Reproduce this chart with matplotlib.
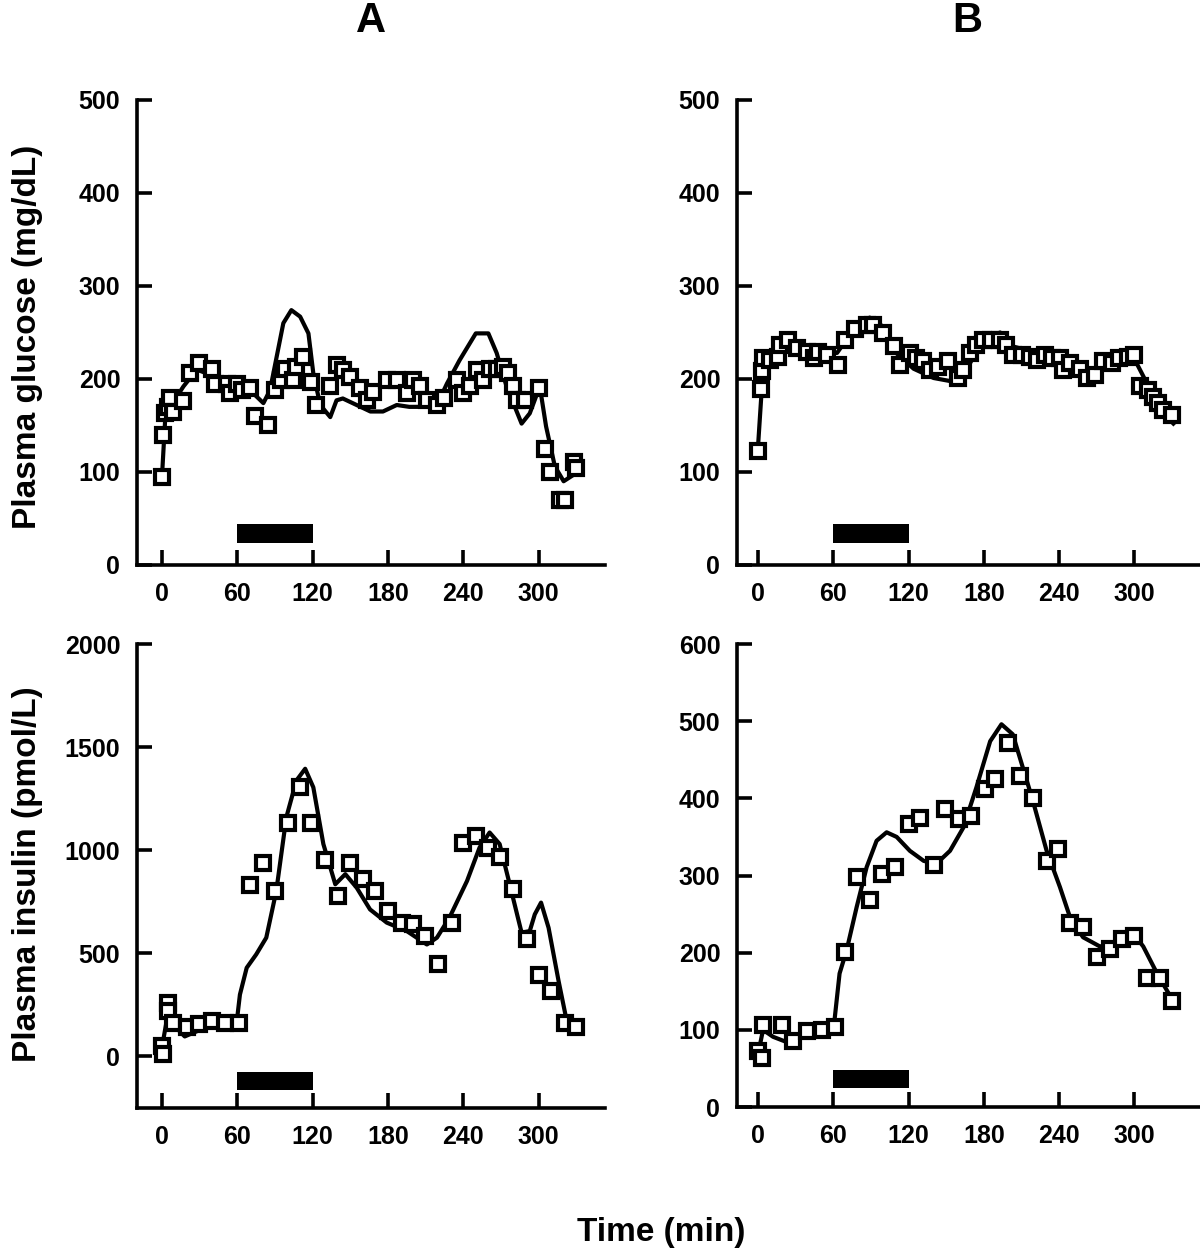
import matplotlib
matplotlib.use('Agg')
import matplotlib.pyplot as plt

plt.rcParams['font.family'] = ['Liberation Sans', 'DejaVu Sans']
plt.rcParams['font.weight'] = 'bold'

# ---- panel A, glucose (mg/dL) ----
a_glu_t = [0, 1, 2.4, 5, 6.4, 9, 17, 22, 29, 39.5, 42, 51.5, 54, 59.5, 63.5, 70, 74, 84.7,
           90, 95, 98, 104.6, 107, 112.6, 119, 123, 134, 139, 144, 150, 158, 163, 168, 179,
           187, 195, 200, 205.5, 211, 219, 225, 235, 240, 245, 250.6, 256, 261, 266.6, 272,
           276, 280, 282.5, 289, 300, 305, 309, 317, 321, 328, 330]
a_glu_v = [95, 140, 163, 170, 179, 165, 176, 206, 217, 211, 195, 195, 185, 195, 188, 190, 160, 150,
           188, 199, 211, 199, 213, 224, 197, 172, 192, 215, 210, 202, 190, 177, 186, 199,
           199, 185, 199, 192, 177, 172, 179, 199, 185, 192, 210, 199, 211, 211, 213,
           206, 192, 177, 177, 190, 125, 100, 70, 70, 111, 104]
a_glu_fit_t = [0, 2.4, 6.4, 17, 27.6, 35.6, 43.5, 62, 70, 80.7, 86, 91.3, 96.6, 103, 110, 116.6,
               120.5, 126, 134, 139, 144, 155, 166, 176, 187, 197, 208, 219, 227, 237, 250, 260,
               266.6, 274.5, 286.5, 293, 301, 306, 313, 320, 328, 333]
a_glu_fit_v = [98, 156, 170, 192, 210, 206, 195, 195, 188, 174, 188, 224, 260, 274, 267, 249,
               206, 172, 159, 177, 179, 172, 165, 165, 172, 170, 170, 172, 195, 220, 249, 249,
               228, 192, 152, 163, 192, 149, 106, 90, 97, 102]

# ---- panel B, glucose (mg/dL) ----
b_glu_t = [0, 2, 3.5, 4.2, 9.6, 16, 17.5, 24, 31, 39, 45, 48, 55, 64, 69, 77, 86.6, 92, 100,
           108, 113, 121, 126, 131.7, 137, 143.7, 151.7, 159.6, 163.6, 169, 174, 179.5, 186,
           193, 198, 203, 210, 216.7, 222, 228.7, 234, 240.6, 243, 248.6, 256.6, 262, 268.5,
           275, 281.8, 288, 295, 300, 304, 311, 315, 319, 323, 329.6]
b_glu_v = [123, 189, 209, 222, 220, 224, 237, 242, 233, 229, 222, 229, 226, 215, 242, 254, 258,
           258, 249, 235, 215, 228, 222, 219, 210, 213, 219, 201, 210, 228, 237, 242, 242,
           242, 237, 226, 226, 224, 220, 226, 222, 222, 210, 217, 211, 201, 204,
           219, 217, 222, 224, 226, 192, 188, 181, 174, 167, 161]
b_glu_fit_t = [0, 4, 9.6, 24, 44, 63, 76, 89, 100, 110, 124, 140, 156, 166, 179.5, 193, 203,
               222, 240, 264, 278, 299, 307, 320, 331]
b_glu_fit_v = [127, 210, 224, 237, 228, 228, 253, 266, 256, 228, 211, 201, 197, 210, 242, 250,
               235, 228, 220, 203, 220, 224, 203, 167, 152]

# ---- panel A, insulin (pmol/L) ----
a_ins_t = [0, 1, 5, 5, 9, 19.6, 29, 39.6, 50, 61, 70, 80, 90, 100.6, 110, 119, 130, 140, 150,
           160, 170, 180, 191, 200, 209.5, 220, 231, 240, 250, 260, 269, 280, 290.5, 300,
           309.6, 321, 330]
a_ins_v = [49, 11, 259, 219, 162, 141, 157, 173, 162, 162, 832, 940, 803, 1130, 1305, 1130,
           952, 778, 940, 859, 803, 705, 649, 644, 584, 446, 649, 1033, 1070, 1013, 965,
           811, 568, 397, 316, 162, 141]
a_ins_fit_t = [0, 4, 7.7, 18, 27.6, 41, 59.5, 62, 67.4, 75, 83, 91, 99, 107, 114, 120.5, 128.5,
               138, 146, 155, 165.7, 179, 195, 211, 219, 229, 243, 253, 261, 269, 277, 286.5,
               293, 297, 302, 308, 316, 322, 330]
a_ins_fit_v = [49, 186, 162, 97, 122, 162, 170, 300, 430, 495, 576, 803, 1160, 1338, 1395, 1305,
               1030, 835, 884, 819, 713, 649, 608, 543, 576, 673, 851, 1013, 1086, 1030, 835,
               600, 608, 689, 746, 624, 365, 186, 146]

# ---- panel B, insulin (pmol/L) ----
b_ins_t = [0, 3, 4, 19, 28, 39, 51, 61, 69, 78.6, 89, 98.5, 109, 120, 129, 140, 149, 160, 170,
           181, 189, 199.5, 209, 219, 230, 239, 248.6, 259, 270, 280.5, 290, 300, 310, 320,
           329.6]
b_ins_v = [72, 63, 106, 106, 85, 98, 100, 104, 201, 298, 268, 302, 311, 367, 375, 313, 386,
           373, 377, 412, 425, 472, 429, 401, 319, 334, 238, 233, 195, 205, 218, 222, 167,
           167, 137]
b_ins_fit_t = [0, 4, 12, 21.5, 31, 44, 57, 61, 65, 70.6, 78.6, 86.6, 94.5, 102.5, 110.5, 121,
               132, 142, 153, 163.6, 174, 185, 194, 203, 211, 219, 230, 240.6, 248.6, 259,
               272.5, 286, 299, 307, 318, 328]
b_ins_fit_v = [68, 100, 91, 85, 89, 96, 102, 113, 173, 203, 259, 311, 345, 356, 350, 332,
               319, 315, 332, 362, 414, 474, 496, 483, 440, 397, 332, 285, 246, 220,
               208, 214, 225, 208, 173, 145]

time_ticks = [0, 60, 120, 180, 240, 300]
drug_start, drug_end = 60, 120


fig = plt.figure(figsize=(12, 12.51), dpi=100)


def painel(rect, xlim, ylim, yticks, t, v, tf, vf, barra):
    ax = fig.add_axes(rect)
    ax.plot(tf, vf, color='black', lw=3, zorder=2)
    ax.plot(t, v, ls='none', marker='s', ms=10.5, mfc='white', mec='black', mew=3,
            zorder=3, clip_on=False)
    ax.fill_between([drug_start, drug_end], barra[0], barra[1], color='black', lw=0, zorder=2)
    ax.set_xlim(*xlim)
    ax.set_ylim(*ylim)
    ax.set_xticks(time_ticks)
    ax.set_yticks(yticks)
    for s in ['top', 'right']:
        ax.spines[s].set_visible(False)
    for s in ['left', 'bottom']:
        ax.spines[s].set_linewidth(2.6)
    ax.tick_params(direction='in', length=11, width=2.6, labelsize=18, pad=12)
    return ax


painel([0.1142, 0.5484, 0.39, 0.3717], (-20, 353), (0, 500), [0, 100, 200, 300, 400, 500],
       a_glu_t, a_glu_v, a_glu_fit_t, a_glu_fit_v, (24, 44))
painel([0.6142, 0.5484, 0.3858, 0.3717], (-16.7, 352.2), (0, 500), [0, 100, 200, 300, 400, 500],
       b_glu_t, b_glu_v, b_glu_fit_t, b_glu_fit_v, (24, 44))
painel([0.1142, 0.1143, 0.39, 0.3709], (-20, 353), (-250, 2000), [0, 500, 1000, 1500, 2000],
       a_ins_t, a_ins_v, a_ins_fit_t, a_ins_fit_v, (-165, -73))
painel([0.6142, 0.1151, 0.3858, 0.3701], (-16.7, 352.2), (0, 600), [0, 100, 200, 300, 400, 500, 600],
       b_ins_t, b_ins_v, b_ins_fit_t, b_ins_fit_v, (25, 48))

fig.text(0.309, 0.983, 'A', fontsize=30, ha='center', va='center')
fig.text(0.806, 0.983, 'B', fontsize=30, ha='center', va='center')
fig.text(0.023, 0.731, 'Plasma glucose (mg/dL)', fontsize=24, rotation=90, ha='center', va='center')
fig.text(0.023, 0.301, 'Plasma insulin (pmol/L)', fontsize=24, rotation=90, ha='center', va='center')
fig.text(0.551, 0.015, 'Time (min)', fontsize=24, ha='center', va='center')

fig.savefig('out.png', dpi=100)
